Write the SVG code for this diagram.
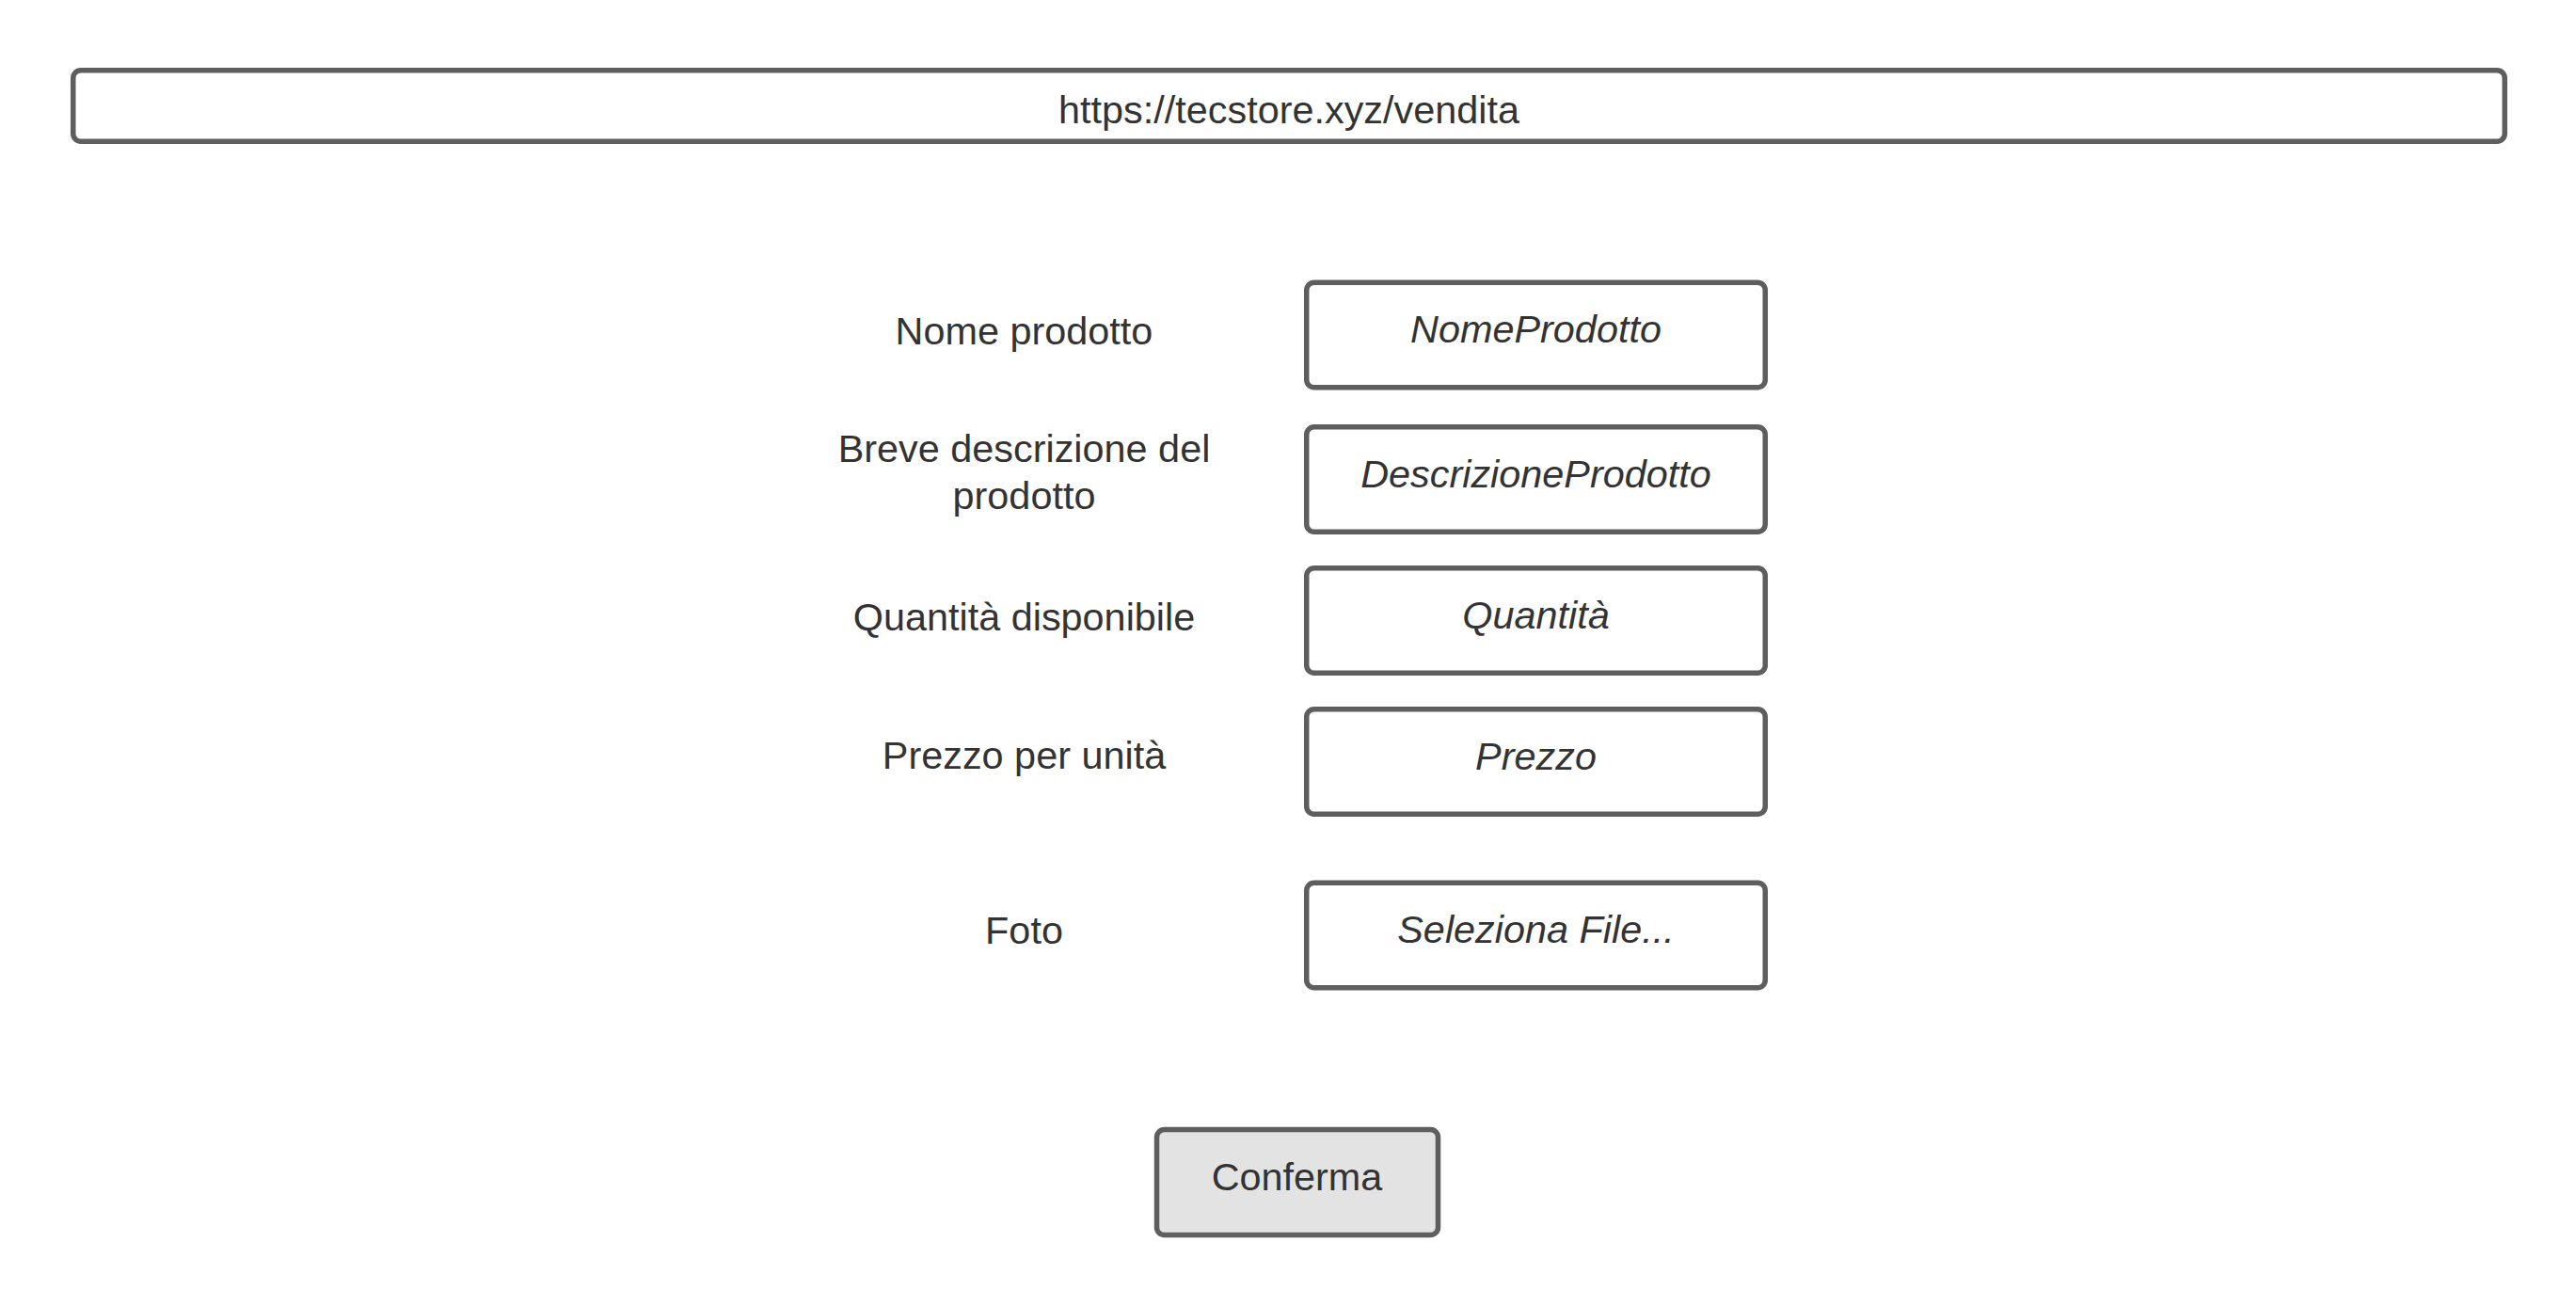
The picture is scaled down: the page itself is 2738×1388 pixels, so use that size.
<svg xmlns="http://www.w3.org/2000/svg" width="2738" height="1388" viewBox="0 0 2738 1388">
<style>
.box{fill:#ffffff;stroke:#5e5e5e;stroke-width:5.5}
.btn{fill:#e3e3e3;stroke:#5e5e5e;stroke-width:5.5}
.t{font-family:"Liberation Sans",Arial,sans-serif;font-size:41.4px;fill:#333333;text-anchor:middle}
.i{font-style:italic}
</style>
<rect width="2738" height="1388" fill="#ffffff"/>
<g id="url-bar">
<rect class="box" x="77.75" y="74.75" width="2584.5" height="75.5" rx="8"/>
<text class="t" x="1370" y="131">https://tecstore.xyz/vendita</text>
</g>
<g id="label-nome"><text class="t" x="1088.5" y="365.5">Nome prodotto</text></g>
<g id="field-nome">
<rect class="box" x="1388.75" y="300.25" width="487.5" height="111.5" rx="8"/>
<text class="t i" x="1632.5" y="364">NomeProdotto</text>
</g>
<g id="label-descrizione"><text class="t" x="1088.5" y="490.5">Breve descrizione del<tspan x="1088.5" y="540.5">prodotto</tspan></text></g>
<g id="field-descrizione">
<rect class="box" x="1388.75" y="453.75" width="487.5" height="111.5" rx="8"/>
<text class="t i" x="1632.5" y="517.5">DescrizioneProdotto</text>
</g>
<g id="label-quantita"><text class="t" x="1088.5" y="669.5">Quantità disponibile</text></g>
<g id="field-quantita">
<rect class="box" x="1388.75" y="603.75" width="487.5" height="111.5" rx="8"/>
<text class="t i" x="1632.5" y="667.5">Quantità</text>
</g>
<g id="label-prezzo"><text class="t" x="1088.5" y="817">Prezzo per unità</text></g>
<g id="field-prezzo">
<rect class="box" x="1388.75" y="753.75" width="487.5" height="111.5" rx="8"/>
<text class="t i" x="1632.5" y="817.5">Prezzo</text>
</g>
<g id="label-foto"><text class="t" x="1088.5" y="1003">Foto</text></g>
<g id="field-foto">
<rect class="box" x="1388.75" y="938.25" width="487.5" height="111.5" rx="8"/>
<text class="t i" x="1632.5" y="1002">Seleziona File...</text>
</g>
<g id="button-conferma">
<rect class="btn" x="1229.5" y="1200.5" width="299" height="112" rx="8"/>
<text class="t" x="1378.5" y="1265">Conferma</text>
</g>
<g id="connectors"></g>
</svg>
